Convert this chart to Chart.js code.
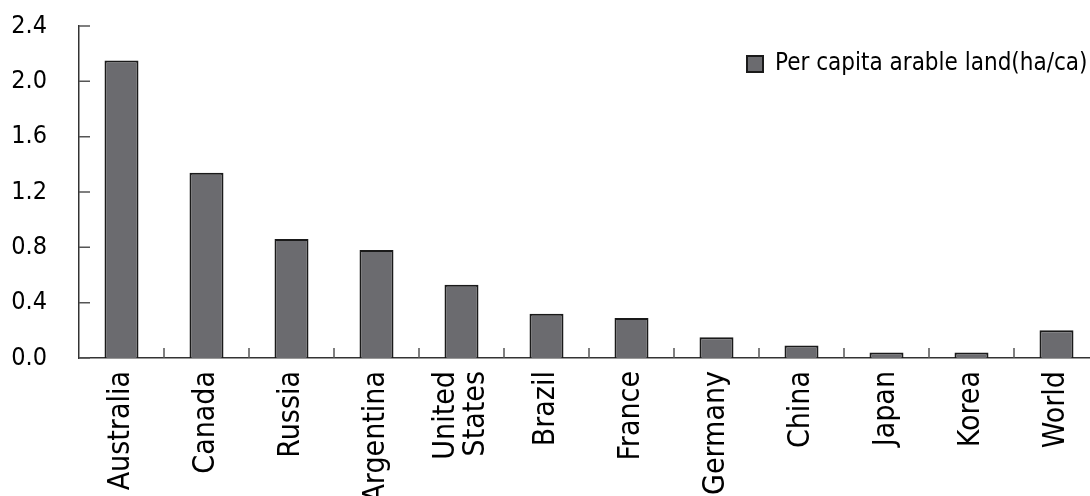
<!DOCTYPE html>
<html><head><meta charset="utf-8">
<script src="https://cdn.jsdelivr.net/npm/chart.js@4.4.1/dist/chart.umd.min.js"></script>
<style>
html,body{margin:0;padding:0;overflow:hidden;background:#fff;}
#wrap{position:relative;width:1099px;height:496px;}
</style></head><body>
<div id="wrap"><canvas id="c" width="1099" height="496"></canvas></div>
<script>
const categories = ['Australia','Canada','Russia','Argentina',['United','States'],'Brazil','France','Germany','China','Japan','Korea','World'];
const seriesName = 'Per capita arable land(ha/ca)';
const values = [2.15, 1.34, 0.86, 0.78, 0.53, 0.32, 0.29, 0.15, 0.09, 0.04, 0.04, 0.20];
const yTicks = [0, 0.4, 0.8, 1.2, 1.6, 2.0, 2.4];

Chart.defaults.font.family = '"DejaVu Sans Condensed", "DejaVu Sans", sans-serif';
Chart.defaults.color = '#000';

const innerTicks = {
  id: 'innerTicks',
  afterDatasetsDraw(chart) {
    const {ctx, scales: {x, y}} = chart;
    ctx.save();
    ctx.strokeStyle = '#555';
    ctx.lineWidth = 1.5;
    ctx.beginPath();
    y.ticks.forEach(t => {
      const py = y.getPixelForValue(t.value);
      ctx.moveTo(x.left, py); ctx.lineTo(x.left + 11, py);
    });
    for (let i = 1; i < categories.length; i++) {
      const px = (x.getPixelForValue(i - 1) + x.getPixelForValue(i)) / 2;
      ctx.moveTo(px, y.bottom); ctx.lineTo(px, y.bottom - 10);
    }
    ctx.stroke();
    ctx.restore();
  }
};

// center multi-line (rotated) category labels on their category
const centerMultiLine = {
  id: 'centerMultiLine',
  beforeDraw(chart) {
    const xs = chart.scales.x;
    xs.getLabelItems().forEach(it => {
      if (Array.isArray(it.label) && it.label.length > 1 && !it._centered) {
        it.textOffset -= (it.label.length - 1) * it.font.lineHeight / 2;
        it._centered = true;
      }
    });
  }
};

const legendPlace = {
  id: 'legendPlace',
  afterLayout(chart) {
    const lg = chart.legend;
    if (!lg) return;
    const pad = lg.options.labels.padding;
    const dx = (chart.chartArea.right - 352) - pad - lg.left;
    const dy = (chart.chartArea.top + 26) - pad - lg.top;
    lg.left += dx; lg.right += dx; lg.top += dy; lg.bottom += dy;
  }
};

new Chart(document.getElementById('c'), {
  type: 'bar',
  data: {
    labels: categories,
    datasets: [{
      label: seriesName,
      data: values,
      backgroundColor: '#6b6b6f',
      borderColor: '#1a1a1a',
      borderWidth: 2,
      borderSkipped: 'bottom',
      categoryPercentage: 1,
      barPercentage: 0.4
    }]
  },
  options: {
    responsive: false,
    animation: false,
    layout: {padding: {top: 26, right: 0, left: 0, bottom: 0}},
    plugins: {
      tooltip: {enabled: false},
      legend: {
        position: 'chartArea',
        align: 'start',
        labels: {
          boxWidth: 16, boxHeight: 16, padding: 10,
          color: '#000',
          font: {size: 24}
        }
      }
    },
    scales: {
      x: {
        grid: {display: false},
        border: {display: true, color: '#333', width: 1.5},
        ticks: {autoSkip: false, maxRotation: 90, minRotation: 90, padding: 5, font: {size: 30, lineHeight: 1.0}, color: '#000'},
        afterFit(s) { s.height = 138; }
      },
      y: {
        min: 0, max: 2.4,
        grid: {display: false},
        border: {display: true, color: '#333', width: 1.5},
        afterBuildTicks(s) { s.ticks = yTicks.map(v => ({value: v})); },
        ticks: {padding: 24, font: {size: 25}, color: '#000', callback: v => Number(v).toFixed(1)},
        afterFit(s) { s.width = 79; s.paddingTop = 0; s.paddingBottom = 0; }
      }
    }
  },
  plugins: [innerTicks, centerMultiLine, legendPlace]
});
</script>
</body></html>
